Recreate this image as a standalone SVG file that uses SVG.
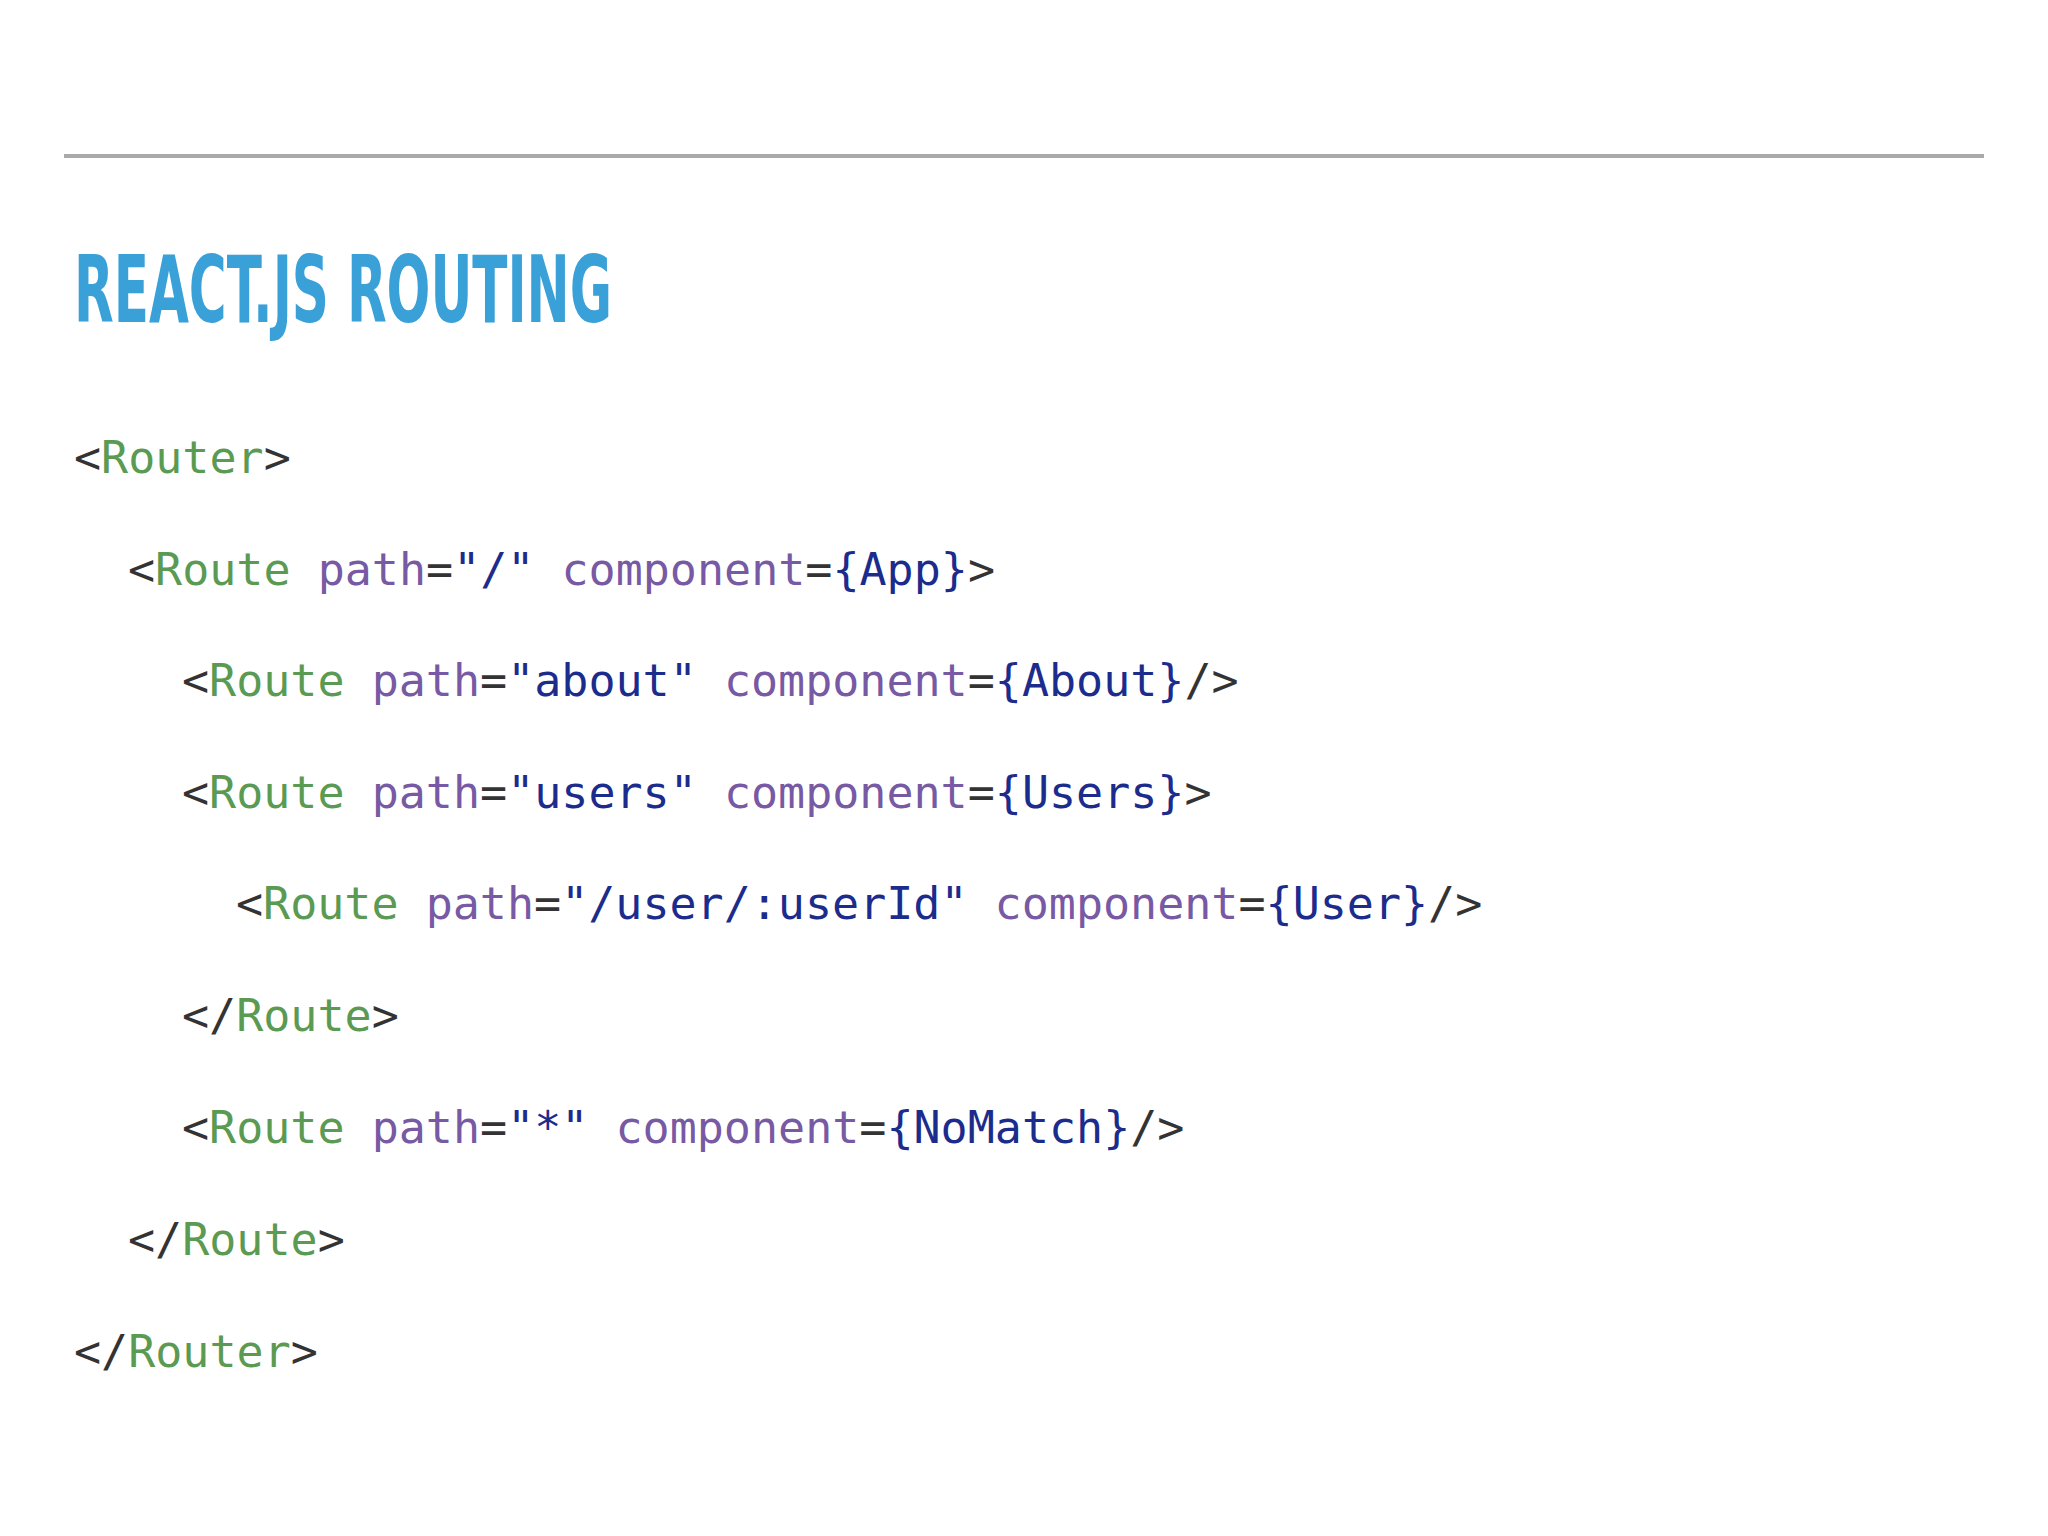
<svg xmlns="http://www.w3.org/2000/svg" width="2048" height="1536" viewBox="0 0 2048 1536">
<style>
.c{font-family:"DejaVu Sans Mono","Liberation Mono",monospace;font-size:45px;fill:#333;white-space:pre}
.g{fill:#5b9a52}.p{fill:#7859a3}.n{fill:#1c2c8c}
</style>
<rect width="2048" height="1536" fill="#fff"/>
<line x1="64" y1="156" x2="1984" y2="156" stroke="#aaa" stroke-width="4"/>
<text x="74" y="322" font-family="'DejaVu Sans Condensed','Liberation Sans Narrow',sans-serif" font-weight="bold" font-size="92" fill="#3aa0d8" textLength="538" lengthAdjust="spacingAndGlyphs">REACT.JS ROUTING</text>
<g id="code">
<text class="c" x="74" y="473">&lt;<tspan class="g">Router</tspan>&gt;</text>
<text class="c" x="128" y="585">&lt;<tspan class="g">Route</tspan> <tspan class="p">path</tspan>=<tspan class="n">"/"</tspan> <tspan class="p">component</tspan>=<tspan class="n">{App}</tspan>&gt;</text>
<text class="c" x="182" y="696">&lt;<tspan class="g">Route</tspan> <tspan class="p">path</tspan>=<tspan class="n">"about"</tspan> <tspan class="p">component</tspan>=<tspan class="n">{About}</tspan>/&gt;</text>
<text class="c" x="182" y="808">&lt;<tspan class="g">Route</tspan> <tspan class="p">path</tspan>=<tspan class="n">"users"</tspan> <tspan class="p">component</tspan>=<tspan class="n">{Users}</tspan>&gt;</text>
<text class="c" x="236" y="919">&lt;<tspan class="g">Route</tspan> <tspan class="p">path</tspan>=<tspan class="n">"/user/:userId"</tspan> <tspan class="p">component</tspan>=<tspan class="n">{User}</tspan>/&gt;</text>
<text class="c" x="182" y="1031">&lt;/<tspan class="g">Route</tspan>&gt;</text>
<text class="c" x="182" y="1143">&lt;<tspan class="g">Route</tspan> <tspan class="p">path</tspan>=<tspan class="n">"*"</tspan> <tspan class="p">component</tspan>=<tspan class="n">{NoMatch}</tspan>/&gt;</text>
<text class="c" x="128" y="1255">&lt;/<tspan class="g">Route</tspan>&gt;</text>
<text class="c" x="74" y="1367">&lt;/<tspan class="g">Router</tspan>&gt;</text>
</g>
</svg>
